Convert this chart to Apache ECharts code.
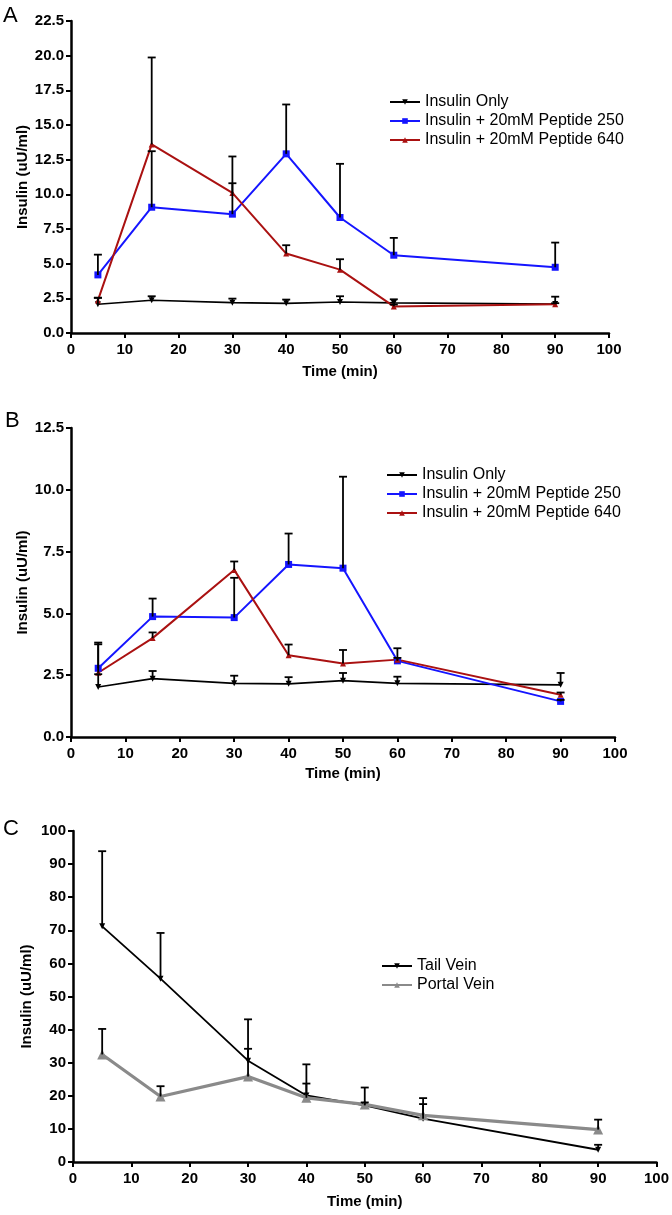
<!DOCTYPE html>
<html>
<head>
<meta charset="utf-8">
<script src="https://cdn.jsdelivr.net/npm/echarts@6/dist/echarts.min.js"></script>
<style>
html,body{margin:0;padding:0;background:#fff;}
#chart{width:672px;height:1215px;}
</style>
</head>
<body>
<div id="chart"></div>
<script>
// ---- data ----
var times = [5, 15, 30, 40, 50, 60, 90];
var xTicks = [0, 10, 20, 30, 40, 50, 60, 70, 80, 90, 100];

// Panel A
var aOnly    = [2.07, 2.36, 2.19, 2.14, 2.24, 2.17, 2.09];
var aOnlyHi  = [2.53, 2.65, 2.48, 2.41, 2.65, 2.43, 2.62];
var a250     = [4.19, 9.07, 8.57, 12.92, 8.33, 5.61, 4.74];
var a250Hi   = [5.65, 13.11, 10.80, 16.48, 12.20, 6.86, 6.52];
var a640     = [2.35, 13.60, 10.10, 5.73, 4.57, 1.92, 2.07];
var a640Hi   = [2.55, 19.87, 12.73, 6.33, 5.32, 2.05, 2.15];

// Panel B
var bOnly    = [2.02, 2.36, 2.17, 2.15, 2.28, 2.17, 2.11];
var bOnlyHi  = [2.54, 2.67, 2.48, 2.42, 2.59, 2.44, 2.59];
var b250     = [2.78, 4.87, 4.83, 6.98, 6.83, 3.08, 1.44];
var b250Hi   = [3.82, 5.60, 6.44, 8.23, 10.53, 3.20, 1.50];
var b640     = [2.60, 4.00, 6.76, 3.31, 2.97, 3.13, 1.71];
var b640Hi   = [3.75, 4.23, 7.10, 3.74, 3.52, 3.59, 1.80];

// Panel C
var cTail    = [71.2, 55.4, 30.6, 20.1, 17.1, 13.1, 3.7];
var cTailHi  = [93.9, 69.2, 43.1, 29.5, 22.5, 19.3, 5.2];
var cPortal  = [32.5, 19.8, 25.8, 19.4, 17.4, 14.1, 9.8];
var cPortalHi= [40.2, 22.9, 34.2, 23.7, 18.0, 17.5, 12.8];

var namesAB = ['Insulin Only', 'Insulin + 20mM Peptide 250', 'Insulin + 20mM Peptide 640'];
var namesC = ['Tail Vein', 'Portal Vein'];

// ---- build ----
var FONT = '"Liberation Sans", Arial, Helvetica, sans-serif';
function pts(v){ return times.map(function(t,i){ return [t, v[i]]; }); }
function errPts(v,hi){ return times.map(function(t,i){ return [t, v[i], hi[i]]; }); }

function errRender(params, api){
  var x = api.value(0), y = api.value(1), e = api.value(2);
  var p0 = api.coord([x, y]);
  var p1 = api.coord([x, e]);
  return {
    type: 'group',
    children: [
      {type:'line', shape:{x1:p0[0], y1:p0[1], x2:p1[0], y2:p1[1]}, style:{stroke:'#000', lineWidth:1.8}},
      {type:'line', shape:{x1:p1[0]-4, y1:p1[1], x2:p1[0]+4, y2:p1[1]}, style:{stroke:'#000', lineWidth:1.8}}
    ]
  };
}

var grids = [
  {left:71, top:21, width:538, height:312},
  {left:71, top:428, width:544, height:309},
  {left:73, top:831, width:584, height:331}
];

function xAx(i){
  return {
    type:'value', gridIndex:i, min:0, max:100, interval:10,
    name:'Time (min)', nameLocation:'middle', nameGap:[31,29,32][i], nameMoveOverlap:false,
    nameTextStyle:{fontFamily:FONT, fontWeight:'bold', fontSize:15, color:'#000'},
    axisLine:{show:true, lineStyle:{color:'#000', width:2.5}},
    axisTick:{show:true, length:5, lineStyle:{color:'#000', width:2}},
    axisLabel:{fontFamily:FONT, fontWeight:'bold', fontSize:15, color:'#000', margin:9,
      formatter:function(v){ return xTicks.indexOf(v) >= 0 ? String(v) : ''; }},
    splitLine:{show:false}
  };
}
function yAx(i, max, interval, dec){
  return {
    type:'value', gridIndex:i, min:0, max:max, interval:interval,
    name:'Insulin (uU/ml)', nameLocation:'middle', nameGap:[41,41,39][i], nameMoveOverlap:false,
    nameTextStyle:{fontFamily:FONT, fontWeight:'bold', fontSize:15, color:'#000'},
    axisLine:{show:true, lineStyle:{color:'#000', width:2.5}},
    axisTick:{show:true, length:5, lineStyle:{color:'#000', width:2}},
    axisLabel:{fontFamily:FONT, fontWeight:'bold', fontSize:15, color:'#000', margin:7,
      formatter:function(v){ return dec ? v.toFixed(1) : String(v); }},
    splitLine:{show:false}
  };
}

var BLACK = '#000000', BLUE = '#1515ff', RED = '#aa1111', GRAY = '#8a8a8a';

function lineSeries(name, data, gi, color, symbol, size, width, rotate){
  return {
    type:'line', name:name, xAxisIndex:gi, yAxisIndex:gi, data:pts(data),
    symbol:symbol, symbolSize:size, symbolRotate:rotate||0, showSymbol:true,
    lineStyle:{color:color, width:width}, itemStyle:{color:color},
    z:3, animation:false, silent:true
  };
}
function errSeries(gi, data, hi){
  return {
    type:'custom', name:'err'+gi, xAxisIndex:gi, yAxisIndex:gi,
    data:errPts(data, hi), renderItem:errRender, z:4, animation:false, silent:true,
    encode:{x:0, y:[1,2]}
  };
}

var series = [];
// A
series.push(lineSeries(namesAB[0], aOnly, 0, BLACK, 'triangle', 6, 1.6, 180));
series.push(lineSeries(namesAB[1], a250, 0, BLUE, 'rect', 7, 2, 0));
series.push(lineSeries(namesAB[2], a640, 0, RED, 'triangle', 6, 2, 0));
series.push(errSeries(0, aOnly, aOnlyHi));
series.push(errSeries(0, a250, a250Hi));
series.push(errSeries(0, a640, a640Hi));
// B
series.push(lineSeries(namesAB[0], bOnly, 1, BLACK, 'triangle', 6, 1.6, 180));
series.push(lineSeries(namesAB[1], b250, 1, BLUE, 'rect', 7, 2, 0));
series.push(lineSeries(namesAB[2], b640, 1, RED, 'triangle', 6, 2, 0));
series.push(errSeries(1, bOnly, bOnlyHi));
series.push(errSeries(1, b250, b250Hi));
series.push(errSeries(1, b640, b640Hi));
// C
series.push(lineSeries(namesC[0], cTail, 2, BLACK, 'triangle', 6, 1.8, 180));
series.push(lineSeries(namesC[1], cPortal, 2, GRAY, 'triangle', 10, 3.2, 0));
series.push(errSeries(2, cTail, cTailHi));
series.push(errSeries(2, cPortal, cPortalHi));

function legend(names, left, top){
  return {
    data:names, orient:'vertical', left:left, top:top,
    itemWidth:30, itemHeight:7, itemGap:3, selectedMode:false,
    textStyle:{fontFamily:FONT, fontSize:16, color:'#000', padding:[0,0,0,0]}
  };
}

var option = {
  backgroundColor:'#fff',
  animation:false,
  grid:grids,
  xAxis:[xAx(0), xAx(1), xAx(2)],
  yAxis:[yAx(0, 22.5, 2.5, true), yAx(1, 12.5, 2.5, true), yAx(2, 100, 10, false)],
  legend:[legend(namesAB, 384, 89), legend(namesAB, 381, 462), legend(namesC, 376, 953)],
  graphic:[
    {type:'text', left:3, top:5, style:{text:'A', font:'22px ' + FONT, fill:'#000'}},
    {type:'text', left:5, top:410, style:{text:'B', font:'22px ' + FONT, fill:'#000'}},
    {type:'text', left:3, top:818, style:{text:'C', font:'22px ' + FONT, fill:'#000'}}
  ],
  series:series
};

var chart = echarts.init(document.getElementById('chart'), null, {renderer:'canvas'});
chart.setOption(option);
</script>
</body>
</html>
